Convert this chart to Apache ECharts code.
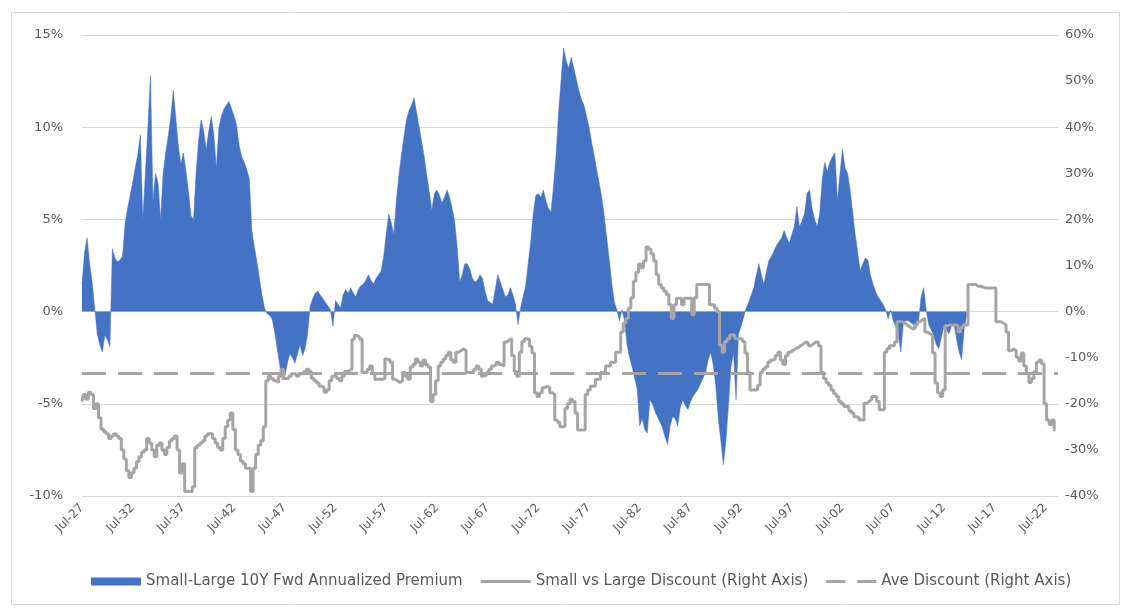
<!DOCTYPE html>
<html>
<head>
<meta charset="utf-8">
<script src="https://cdn.jsdelivr.net/npm/echarts@6/dist/echarts.min.js"></script>
<style>
  html, body { margin: 0; padding: 0; background: #fff; }
  #chart { width: 1130px; height: 611px; }
</style>
</head>
<body>
<div id="chart"></div>
<script>
// quarterly, starting Jul-1927
var premium = [
  1.5, 3.2, 4.0, 2.6, 1.6, 0.2, -1.2, -1.8, -2.2, -1.3, -1.5, -1.9, 3.4, 2.9, 2.7, 2.8, 3.0, 4.8, 5.6, 6.3,
  7.0, 7.8, 8.5, 9.6, 5.0, 7.5, 10.0, 12.8, 6.0, 7.5, 7.0, 5.0, 7.5, 8.6, 9.5, 10.5, 12.0, 10.5, 9.0, 8.0,
  8.6, 7.6, 6.5, 5.2, 5.0, 7.5, 9.3, 10.4, 9.8, 8.8, 9.8, 10.6, 9.6, 7.8, 10.0, 10.6, 11.0, 11.2, 11.4, 11.0,
  10.6, 10.1, 9.0, 8.4, 8.1, 7.7, 7.2, 4.4, 3.5, 2.7, 1.8, 0.9, 0.2, -0.1, -0.2, -0.4, -1.1, -2.0, -2.9, -3.7,
  -3.5, -2.8, -2.3, -2.5, -2.8, -2.3, -1.8, -2.4, -2.0, -1.2, 0.3, 0.7, 1.0, 1.1, 0.9, 0.7, 0.5, 0.3, 0.1, -0.8,
  0.6, 0.4, 0.2, 0.9, 1.2, 1.0, 1.3, 1.0, 0.8, 1.2, 1.4, 1.5, 1.7, 2.0, 1.7, 1.5, 1.8, 2.0, 2.2, 3.0,
  4.2, 5.3, 4.8, 4.2, 6.0, 7.4, 8.5, 9.5, 10.4, 10.9, 11.2, 11.6, 10.8, 10.0, 9.2, 8.4, 7.4, 6.5, 5.5, 6.4,
  6.6, 6.3, 5.9, 6.2, 6.6, 6.2, 5.6, 4.9, 3.5, 1.6, 2.0, 2.6, 2.6, 2.3, 1.8, 1.6, 1.7, 2.0, 1.8, 1.1,
  0.6, 0.5, 0.4, 1.2, 2.0, 1.6, 1.2, 0.8, 0.9, 1.3, 0.9, 0.4, -0.7, 0.2, 0.8, 1.4, 2.6, 3.8, 5.3, 6.3,
  6.4, 6.2, 6.6, 6.0, 5.6, 5.4, 6.8, 8.5, 10.8, 12.6, 14.3, 13.6, 13.2, 13.8, 13.2, 12.6, 12.0, 11.5, 11.2, 10.6,
  10.0, 9.2, 8.5, 7.7, 7.0, 6.2, 5.2, 4.0, 2.8, 1.5, 0.5, 0.1, -0.5, 0.1, -0.5, -1.8, -2.5, -3.0, -3.6, -4.2,
  -6.2, -5.8, -6.4, -6.6, -4.8, -5.0, -5.4, -5.7, -6.0, -6.3, -6.8, -7.2, -6.2, -5.7, -5.8, -6.2, -5.2, -4.8, -5.1, -5.3,
  -4.9, -4.6, -4.4, -4.2, -3.9, -3.6, -3.3, -2.6, -2.2, -2.9, -4.0, -5.8, -7.0, -8.3, -7.0, -5.1, -3.0, -2.2, -4.8, -1.2,
  -0.8, -0.3, 0.2, 0.5, 0.9, 1.3, 2.0, 2.6, 2.0, 1.5, 2.2, 2.8, 3.0, 3.3, 3.6, 3.8, 4.0, 4.4, 4.0, 3.7,
  4.2, 4.6, 5.7, 4.6, 4.9, 5.3, 6.4, 6.6, 5.6, 5.0, 4.6, 5.3, 7.2, 8.1, 7.6, 8.1, 8.4, 8.6, 6.0, 7.5,
  8.8, 7.8, 7.5, 6.6, 5.4, 4.2, 3.2, 2.2, 2.6, 2.9, 2.8, 2.0, 1.5, 1.1, 0.8, 0.6, 0.4, 0.1, -0.4, 0.1,
  -0.5, -0.8, -1.2, -2.2, -0.6, -0.5, -0.5, -0.6, -0.7, -0.9, -0.5, 0.8, 1.3, 0.1, -0.7, -1.0, -1.3, -1.8, -2.0, -1.4,
  -0.8, -1.0, -1.2, -0.8, -0.7, -1.5, -2.2, -2.6, -0.9, -0.2
];

var discount = [
  -19.5, -18, -19, -17.5, -18, -21, -20, -23, -25.5, -26, -26.5, -27.5, -27, -26.5, -27, -27.5, -30, -32, -34.5, -36,
  -35, -34, -32.5, -31.5, -30.5, -30, -27.5, -28.5, -30, -31.5, -29, -28.5, -30, -31, -29.5, -28, -27.5, -27, -30, -35,
  -33, -39, -39, -39, -38, -29.5, -29, -28.5, -28, -27, -26.5, -26.5, -27.5, -28.5, -29.5, -30, -27.5, -25, -23.5, -22,
  -25.5, -30, -31, -32.4, -33, -34, -34, -39, -34, -31, -29, -28, -25, -15, -14, -14.5, -15, -15.4, -14, -12.5,
  -14.5, -14.5, -14, -13.5, -13.5, -14, -13.5, -13.5, -13, -12.5, -13, -14.5, -15, -15.5, -16.2, -16.5, -17.5, -17, -15, -14,
  -14, -14.5, -15, -14, -13, -12.8, -12.5, -6, -5.2, -5.5, -6, -13.2, -13.2, -12.5, -11.8, -13.5, -14.7, -14.7, -14.7, -14.5,
  -10.3, -10.5, -11, -14.7, -15, -15.4, -15, -13.2, -14, -14.7, -12, -11.5, -10.3, -11, -11.8, -10.5, -11.5, -12, -19.5, -18,
  -15, -11.8, -11, -10.3, -9.5, -8.8, -10.5, -11, -8.8, -8.5, -8.1, -8.5, -13.2, -13.2, -13.2, -12.5, -11.8, -12.5, -14, -13.8,
  -13.2, -12.5, -11.8, -11.5, -11, -11.5, -11.8, -6.6, -6.2, -5.9, -9.5, -13, -14, -8.8, -6.5, -5.9, -6.0, -7.5, -9, -17.6,
  -18.4, -17.6, -16.5, -16.2, -16.5, -17.6, -18, -23.5, -24, -25, -25, -21, -20, -19, -19.5, -22, -25.7, -25.7, -25.7, -18,
  -17, -16.2, -16.2, -14.7, -14.7, -13.2, -13.2, -11.8, -11.8, -11, -11, -8.8, -8.8, -4.4, -2.5, -1.5, 0.7, 3, 6.6, 8.5,
  10.3, 9.5, 11, 14, 13.5, 12.5, 11, 8, 5.9, 5.1, 4.4, 3.7, 1.5, -1.5, 1.5, 2.9, 2.9, 1.5, 2.9, 2.9,
  2.9, -0.7, 3, 5.9, 5.9, 5.9, 5.9, 5.9, 1.5, 1.5, 0.7, 0, -7.3, -8.8, -6.5, -5.9, -5.1, -5.1, -5.9, -5.9,
  -5.9, -6.5, -9, -13.2, -17, -17, -17, -16, -13.2, -12.5, -12, -11, -10.5, -10.3, -9.5, -8.8, -10.5, -11.5, -9.6, -8.8,
  -8.4, -8.1, -7.8, -7.4, -7, -6.6, -6.8, -7.4, -7, -6.6, -6.6, -7.4, -13.2, -14.5, -15.4, -16, -17, -17.8, -18.4, -19.5,
  -20, -20.6, -20.6, -21.5, -22, -22.8, -23, -23.5, -23.5, -19.9, -19.5, -19.1, -18.4, -18.4, -19.5, -21.3, -21.3, -8.8, -8, -7.4,
  -7.4, -6.6, -2.2, -2.2, -2.5, -2.9, -3.3, -3.7, -3.7, -2.9, -2.2, -1.8, -1.5, -4.4, -4.8, -5.1, -9, -15.5, -17.6, -18.4,
  -17, -3, -2.9, -2.9, -2.9, -2.9, -4.4, -3.5, -2.9, -2.9, 5.9, 5.9, 5.9, 5.5, 5.5, 5.3, 5.1, 5.1, 5.1, 5.1,
  5.1, -2.2, -2.2, -2.5, -2.9, -4.4, -8.5, -8.1, -8.5, -9.9, -10.7, -9.0, -11.8, -13.5, -15.4, -14.5, -13, -11, -10.5, -11.3,
  -20, -23.5, -24.5, -23.5, -25.7
];

var aveDiscount = -13.4;

var names = ['Small-Large 10Y Fwd Annualized Premium', 'Small vs Large Discount (Right Axis)', 'Ave Discount (Right Axis)'];

// quarter labels Jul-27 .. Oct-23
var months = ['Jan', 'Apr', 'Jul', 'Oct'];
var dates = [];
for (var q = 2; dates.length < 386; q++) {
  var yr = 1927 + Math.floor(q / 4);
  dates.push(months[q % 4] + '-' + String(yr % 100).padStart(2, '0'));
}

var font = 'DejaVu Sans';
var textColor = '#595959';
var gray = '#A5A5A5';
var blue = '#4472C4';

var myChart = echarts.init(document.getElementById('chart'));
var option = {
  animation: false,
  backgroundColor: '#fff',
  textStyle: { fontFamily: font },
  graphic: [{
    type: 'rect',
    shape: { x: 11.5, y: 12.5, width: 1108, height: 592 },
    style: { fill: 'none', stroke: '#D9D9D9', lineWidth: 1 }
  }],
  grid: { left: 82, right: 72, top: 35, bottom: 115 },
  legend: {
    bottom: 17,
    left: 86,
    itemWidth: 50,
    itemHeight: 8,
    itemGap: 18,
    itemStyle: { borderWidth: 0 },
    textStyle: { color: textColor, fontSize: 15, fontFamily: font },
    data: [
      { name: names[0], icon: 'rect' },
      { name: names[1], icon: 'path://M0,0L50,0L50,3L0,3Z' },
      { name: names[2], icon: 'path://M0,0L19,0L19,3L0,3ZM31,0L50,0L50,3L31,3Z' }
    ]
  },
  xAxis: {
    type: 'category',
    data: dates,
    boundaryGap: false,
    axisLine: { show: false },
    axisTick: { show: false },
    axisLabel: {
      interval: 19,
      rotate: 45,
      color: textColor,
      fontSize: 12,
      margin: 10
    },
    splitLine: { show: false }
  },
  yAxis: [
    {
      type: 'value',
      min: -10, max: 15, interval: 5,
      axisLabel: { formatter: '{value}%', color: textColor, fontSize: 13, margin: 19 },
      axisLine: { show: false },
      axisTick: { show: false },
      splitLine: { lineStyle: { color: '#D9D9D9', width: 1 } }
    },
    {
      type: 'value',
      min: -40, max: 60, interval: 10,
      axisLabel: { formatter: '{value}%', color: textColor, fontSize: 13, margin: 7 },
      axisLine: { show: false },
      axisTick: { show: false },
      splitLine: { show: false }
    }
  ],
  series: [
    {
      name: names[0],
      type: 'line',
      data: premium,
      symbol: 'none',
      lineStyle: { width: 0.5, color: blue },
      itemStyle: { color: blue },
      areaStyle: { color: blue, opacity: 1 },
      z: 2
    },
    {
      name: names[1],
      type: 'line',
      yAxisIndex: 1,
      data: discount,
      step: 'middle',
      symbol: 'none',
      lineStyle: { width: 3, color: gray },
      itemStyle: { color: gray },
      z: 3
    },
    {
      name: names[2],
      type: 'line',
      yAxisIndex: 1,
      data: [],
      symbol: 'none',
      lineStyle: { width: 3, color: gray, type: [24, 12] },
      itemStyle: { color: gray },
      markLine: {
        silent: true,
        symbol: ['none', 'none'],
        label: { show: false },
        lineStyle: { color: gray, width: 3, type: [24, 12] },
        data: [{ yAxis: aveDiscount }]
      },
      z: 4
    }
  ]
};
myChart.setOption(option);
</script>
</body>
</html>
